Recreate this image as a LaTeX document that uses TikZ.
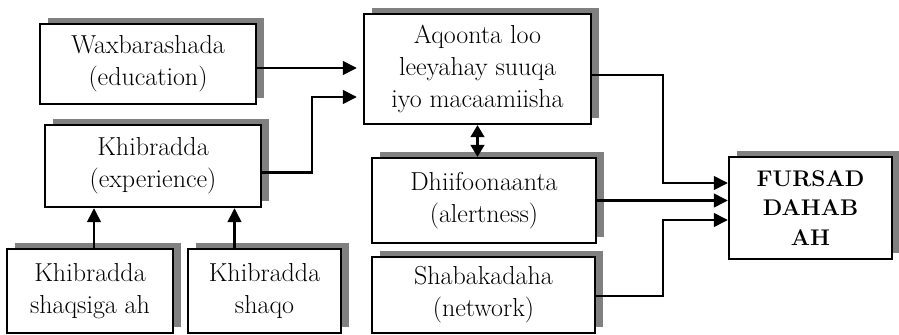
\documentclass[tikz,border=0pt]{standalone}
\usepackage{fontspec}
\usepackage{tikz}
\usetikzlibrary{positioning, arrows.meta, shadows}

\begin{document}
\begin{tikzpicture}[
    x=0.75pt, y=-0.75pt,
    box/.style={rectangle, draw, line width=1.6pt, fill=white, align=center, inner sep=0pt,
        font=\fontsize{19.5}{24}\selectfont,
        drop shadow={shadow xshift=6pt, shadow yshift=4.5pt, fill=black!50, opacity=1}},
    boldbox/.style={box, font=\fontsize{17}{22}\selectfont\bfseries},
    arrow/.style={-{Triangle[length=10.5pt, width=10pt]}, line width=2.2pt},
    dblarrow/.style={{Triangle[length=9pt, width=10pt]}-{Triangle[length=9pt, width=10pt]}, line width=2.2pt}
]
\useasboundingbox (0,0) rectangle (899,335);

% Left column
\node[box, minimum width=162pt, minimum height=60pt] (wax) at (148,64) {Waxbarashada\\(education)};
\node[box, minimum width=162pt, minimum height=61.5pt] (exp) at (153,166) {Khibradda\\(experience)};

% Bottom row
\node[box, minimum width=124.5pt, minimum height=63pt] (pers) at (90,291) {Khibradda\\shaqsiga ah};
\node[box, minimum width=114.75pt, minimum height=63pt] (job) at (264.5,291) {Khibradda\\shaqo};

% Middle column
\node[box, minimum width=170.25pt, minimum height=82.5pt] (aqo) at (477.5,69) {Aqoonta loo\\leeyahay suuqa\\iyo macaamiisha};
\node[box, minimum width=168pt, minimum height=63.75pt] (dhi) at (484,200.5) {Dhiifoonaanta\\(alertness)};
\node[box, minimum width=167.25pt, minimum height=57pt] (sha) at (483.5,295) {Shabakadaha\\(network)};

% Result
\node[boldbox, minimum width=122.25pt, minimum height=76.5pt] (fur) at (810.5,208) {FURSAD\\DAHAB\\AH};

% Bend points
\coordinate (expbend) at (312,97);
\coordinate (aqobend) at (663,183);
\coordinate (shabend) at (663,220);

% Arrows - into Aqoonta
\draw[arrow, shorten >=4.5pt] ([yshift=-3pt]wax.east) -- ([yshift=-3pt]wax.east -| aqo.west);
\draw[arrow, shorten >=4.5pt] ([yshift=-5pt]exp.east) -| (expbend) -- (expbend -| aqo.west);

% Arrows - into Khibradda
\draw[arrow] ([xshift=3pt]pers.north) -- ([xshift=3pt]pers.north |- exp.south);
\draw[arrow] ([xshift=-22.5pt]job.north) -- ([xshift=-22.5pt]job.north |- exp.south);

% Aqoonta <-> Dhiifoonaanta
\draw[dblarrow] (aqo.south) -- (aqo.south |- dhi.north);

% Arrows - into FURSAD
\draw[arrow] ([yshift=-4.5pt]aqo.east) -| (aqobend) -- (aqobend -| fur.west);
\draw[arrow] (dhi.east) -- (dhi.east -| fur.west);
\draw[arrow] ([yshift=-0.75pt]sha.east) -| (shabend) -- (shabend -| fur.west);

\end{tikzpicture}
\end{document}
